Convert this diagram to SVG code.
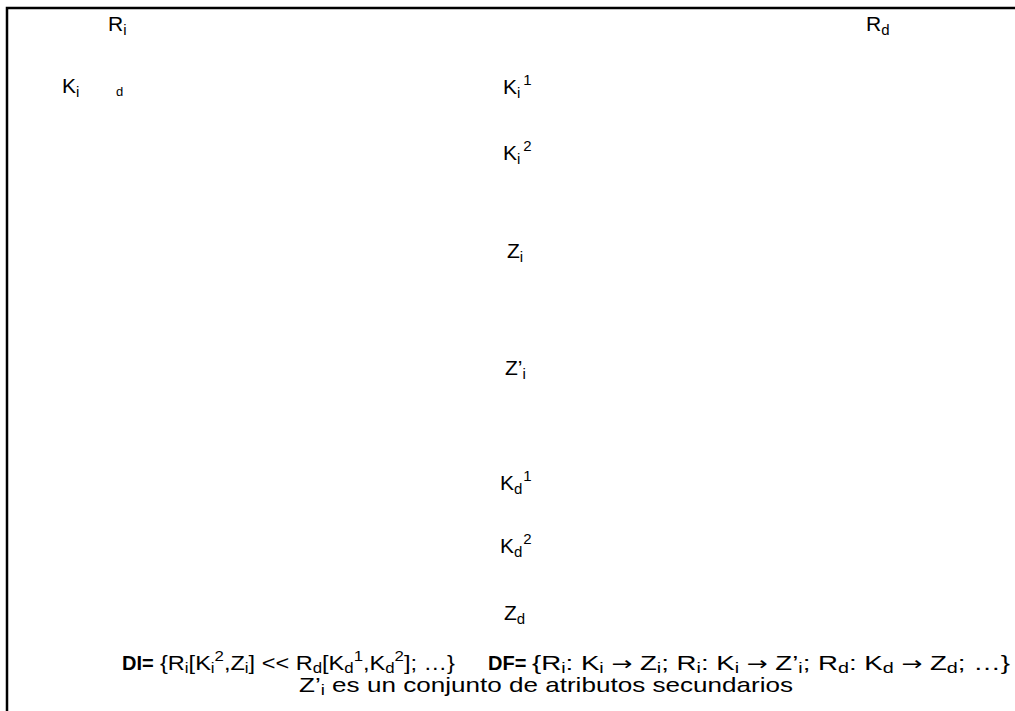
<svg xmlns="http://www.w3.org/2000/svg" width="1015" height="711" viewBox="0 0 1015 711">
<style>
text{font-family:"Liberation Sans",Arial,sans-serif;font-size:21px;fill:#000}
.s{font-size:15px}
.b{font-weight:bold;font-size:20px}
.ln{font-size:21px}
.ar{font-family:"DejaVu Sans",sans-serif;font-size:19px}
.frame{fill:none;stroke:#000;stroke-width:2.5}
</style>
<rect x="0" y="0" width="1015" height="711" fill="#fff"/>
<path class="frame" d="M7,711 V8 H1015"/>
<g id="Ri"><text x="108" y="31">R<tspan class="s" dy="4">i</tspan></text></g>
<g id="Rd"><text x="866" y="31">R<tspan class="s" dy="4">d</tspan></text></g>
<g id="Ki"><text x="62" y="93">K<tspan class="s" dy="4">i</tspan></text><text class="s" style="font-size:13px" x="116" y="96">d</text></g>
<g id="Ki1"><text x="503" y="94">K<tspan class="s" dy="4">i</tspan><tspan class="s" dx="3" dy="-13">1</tspan></text></g>
<g id="Ki2"><text x="503" y="160">K<tspan class="s" dy="4">i</tspan><tspan class="s" dx="3" dy="-13">2</tspan></text></g>
<g id="Zi"><text x="507" y="258">Z<tspan class="s" dy="4">i</tspan></text></g>
<g id="Zpi"><text x="505" y="375">Z’<tspan class="s" dy="4">i</tspan></text></g>
<g id="Kd1"><text x="500" y="490">K<tspan class="s" dy="4">d</tspan><tspan class="s" dx="1" dy="-13">1</tspan></text></g>
<g id="Kd2"><text x="500" y="553">K<tspan class="s" dy="4">d</tspan><tspan class="s" dx="1" dy="-13">2</tspan></text></g>
<g id="Zd"><text x="504" y="620">Z<tspan class="s" dy="4">d</tspan></text></g>
<g id="connectors"></g>
<g id="DI">
<text class="b" x="122" y="670">DI=</text>
<text class="ln" x="160" y="670" textLength="295" lengthAdjust="spacingAndGlyphs">{R<tspan class="s" dy="3">i</tspan><tspan dy="-3">[K</tspan><tspan class="s" dy="3">i</tspan><tspan class="s" dy="-12">2</tspan><tspan dy="9">,Z</tspan><tspan class="s" dy="3">i</tspan><tspan dy="-3">] &lt;&lt; R</tspan><tspan class="s" dy="3">d</tspan><tspan dy="-3">[K</tspan><tspan class="s" dy="3">d</tspan><tspan class="s" dy="-12">1</tspan><tspan dy="9">,K</tspan><tspan class="s" dy="3">d</tspan><tspan class="s" dy="-12">2</tspan><tspan dy="9">]; …}</tspan></text>
</g>
<g id="DF">
<text class="b" x="488" y="670">DF=</text>
<text class="ln" x="532" y="670" textLength="478" lengthAdjust="spacingAndGlyphs">{R<tspan class="s" dy="3">i</tspan><tspan dy="-3">: K</tspan><tspan class="s" dy="3">i</tspan><tspan dy="-3"> </tspan><tspan class="ar">→</tspan><tspan> Z</tspan><tspan class="s" dy="3">i</tspan><tspan dy="-3">; R</tspan><tspan class="s" dy="3">i</tspan><tspan dy="-3">: K</tspan><tspan class="s" dy="3">i</tspan><tspan dy="-3"> </tspan><tspan class="ar">→</tspan><tspan> Z’</tspan><tspan class="s" dy="3">i</tspan><tspan dy="-3">; R</tspan><tspan class="s" dy="3">d</tspan><tspan dy="-3">: K</tspan><tspan class="s" dy="3">d</tspan><tspan dy="-3"> </tspan><tspan class="ar">→</tspan><tspan> Z</tspan><tspan class="s" dy="3">d</tspan><tspan dy="-3">;  …}</tspan></text>
</g>
<g id="note"><text class="ln" x="299" y="692" textLength="494" lengthAdjust="spacingAndGlyphs">Z’<tspan class="s" dy="3">i</tspan><tspan dy="-3"> es un conjunto de atributos secundarios</tspan></text></g>
</svg>
